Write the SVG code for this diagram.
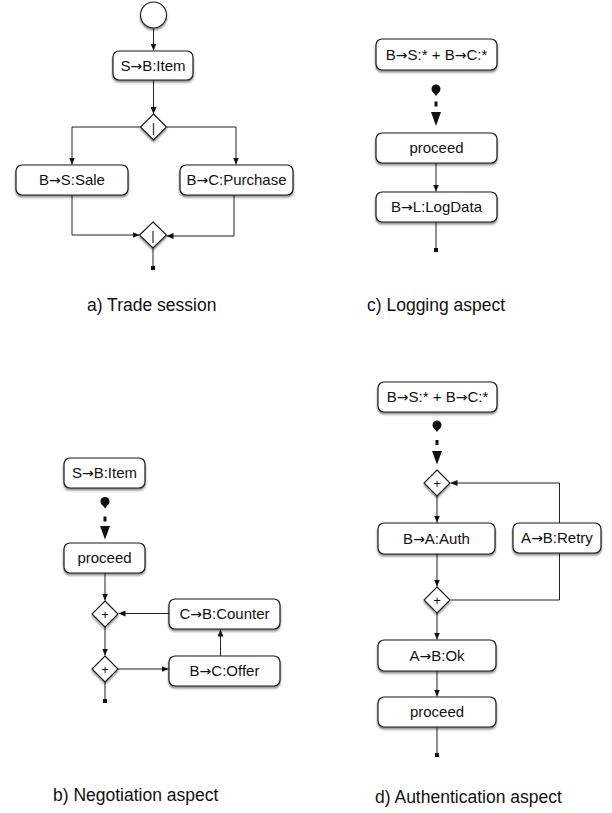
<svg xmlns="http://www.w3.org/2000/svg" width="612" height="813" viewBox="0 0 612 813">
<defs>
<style>
.box{fill:#fff;stroke:#1a1a1a;stroke-width:1.2;filter:url(#sh)}
.dia{fill:#fff;stroke:#1a1a1a;stroke-width:1.1;filter:url(#sh)}
.t{font-family:"Liberation Sans",Arial,sans-serif;font-size:15px;fill:#111;text-anchor:middle}
.ar{font-family:"DejaVu Sans",sans-serif;font-size:14px}
.s{font-family:"Liberation Sans",Arial,sans-serif;font-size:13px;fill:#111;text-anchor:middle}
.lab{font-family:"Liberation Sans",Arial,sans-serif;font-size:17.5px;fill:#111}
.c{fill:none;stroke:#222;stroke-width:1}
.ca{fill:none;stroke:#222;stroke-width:1;marker-end:url(#ah)}
.k{fill:#111}
</style>
<filter id="sh" x="-20%" y="-20%" width="140%" height="160%">
<feDropShadow dx="0" dy="2" stdDeviation="1.3" flood-color="#000" flood-opacity="0.45"/>
</filter>
<marker id="ah" markerWidth="7" markerHeight="6" refX="7" refY="3" orient="auto" markerUnits="userSpaceOnUse">
<path d="M0,0 L7,3 L0,6 z" fill="#111"/>
</marker>
</defs>

<g id="connectors">
<!-- a) trade session -->
<path class="ca" d="M153.5,28 V50.5"/>
<path class="ca" d="M153.5,80 V114"/>
<path class="ca" d="M140.5,127 H72 V164.5"/>
<path class="ca" d="M166.5,127 H236 V164.5"/>
<path class="ca" d="M72,195 V235 H139.5"/>
<path class="ca" d="M234,195 V236 H166.5"/>
<path class="c" d="M153,248 V266"/>
<rect class="k" x="151" y="266" width="4" height="4"/>

<!-- c) logging -->
<circle class="k" cx="436" cy="89" r="4.5"/>
<path class="k" d="M432.5,91 L439.5,91 L436,96 z"/>
<rect class="k" x="434.5" y="101.5" width="3" height="5"/>
<path class="k" d="M431,112 L441,112 L436,126 z"/>
<path class="ca" d="M436,163 V191.5"/>
<path class="c" d="M436,222 V248"/>
<rect class="k" x="434" y="248" width="4" height="4"/>

<!-- b) negotiation -->
<circle class="k" cx="105" cy="501.5" r="4.5"/>
<path class="k" d="M101.5,503.5 L108.5,503.5 L105,508.5 z"/>
<rect class="k" x="103.5" y="516.5" width="3" height="5"/>
<path class="k" d="M100,526 L110,526 L105,539.5 z"/>
<path class="ca" d="M105,573 V600.5"/>
<path class="ca" d="M169,613.5 H118.5"/>
<path class="ca" d="M105,627 V655.5"/>
<path class="ca" d="M118,669 H168.5"/>
<path class="ca" d="M220.5,656 V629.5"/>
<path class="c" d="M105,681.5 V699"/>
<rect class="k" x="103" y="699" width="4" height="4"/>

<!-- d) authentication -->
<circle class="k" cx="437" cy="425" r="4.5"/>
<path class="k" d="M433.5,427 L440.5,427 L437,432 z"/>
<rect class="k" x="435.5" y="440" width="3" height="5"/>
<path class="k" d="M432,451 L442,451 L437,464.5 z"/>
<path class="ca" d="M559.5,523 V483 H450.5"/>
<path class="ca" d="M437,496 V522.5"/>
<path class="ca" d="M437,554 V586.5"/>
<path class="c" d="M450.5,600 H559.5 V553.5"/>
<path class="ca" d="M437,613 V639.5"/>
<path class="ca" d="M437,671 V696.5"/>
<path class="c" d="M437,727.5 V753"/>
<rect class="k" x="435" y="753" width="4" height="4"/>
</g>

<!-- a) Trade session nodes -->
<g id="a_start"><circle cx="153.5" cy="15" r="13" class="dia"/></g>
<g id="a_item"><rect class="box" x="113" y="51" width="80" height="29" rx="6"/><text class="t" x="153" y="70.5">S<tspan class="ar">→</tspan>B:Item</text></g>
<g id="a_split"><path class="dia" d="M153.5,114 L166.5,127 L153.5,140 L140.5,127 z"/><text class="s" x="153.5" y="131.5">|</text></g>
<g id="a_sale"><rect class="box" x="16" y="165" width="112" height="30" rx="6"/><text class="t" x="72" y="185">B<tspan class="ar">→</tspan>S:Sale</text></g>
<g id="a_purchase"><rect class="box" x="180" y="165" width="113" height="30" rx="6"/><text class="t" x="236.5" y="185">B<tspan class="ar">→</tspan>C:Purchase</text></g>
<g id="a_join"><path class="dia" d="M153,222 L166.5,235 L153,248 L139.5,235 z"/><text class="s" x="153" y="239.5">|</text></g>

<!-- c) Logging aspect nodes -->
<g id="c_pointcut"><rect class="box" x="376" y="39" width="121" height="31" rx="6"/><text class="t" x="436.5" y="59.5">B<tspan class="ar">→</tspan>S:* + B<tspan class="ar">→</tspan>C:*</text></g>
<g id="c_proceed"><rect class="box" x="376" y="133" width="121" height="30" rx="6"/><text class="t" x="436.5" y="153">proceed</text></g>
<g id="c_log"><rect class="box" x="376" y="192" width="121" height="30" rx="6"/><text class="t" x="436.5" y="212">B<tspan class="ar">→</tspan>L:LogData</text></g>

<!-- b) Negotiation aspect nodes -->
<g id="b_pointcut"><rect class="box" x="64" y="458" width="81" height="30" rx="6"/><text class="t" x="104.5" y="478">S<tspan class="ar">→</tspan>B:Item</text></g>
<g id="b_proceed"><rect class="box" x="64" y="543" width="81" height="30" rx="6"/><text class="t" x="104.5" y="563">proceed</text></g>
<g id="b_merge"><path class="dia" d="M105,601 L118,614 L105,627 L92,614 z"/><text class="s" x="105" y="618.5">+</text></g>
<g id="b_counter"><rect class="box" x="169" y="599" width="111" height="30" rx="6"/><text class="t" x="224.5" y="619">C<tspan class="ar">→</tspan>B:Counter</text></g>
<g id="b_split"><path class="dia" d="M105,656 L118,669 L105,682 L92,669 z"/><text class="s" x="105" y="673.5">+</text></g>
<g id="b_offer"><rect class="box" x="169" y="656" width="111" height="30" rx="6"/><text class="t" x="224.5" y="676">B<tspan class="ar">→</tspan>C:Offer</text></g>

<!-- d) Authentication aspect nodes -->
<g id="d_pointcut"><rect class="box" x="378" y="382" width="119" height="30" rx="6"/><text class="t" x="437.5" y="402">B<tspan class="ar">→</tspan>S:* + B<tspan class="ar">→</tspan>C:*</text></g>
<g id="d_merge"><path class="dia" d="M437,470 L450,483 L437,496 L424,483 z"/><text class="s" x="437" y="487.5">+</text></g>
<g id="d_auth"><rect class="box" x="378" y="523" width="117" height="31" rx="6"/><text class="t" x="436.5" y="543.5">B<tspan class="ar">→</tspan>A:Auth</text></g>
<g id="d_retry"><rect class="box" x="513" y="523" width="88" height="30" rx="6"/><text class="t" x="557" y="543">A<tspan class="ar">→</tspan>B:Retry</text></g>
<g id="d_split"><path class="dia" d="M437,587 L450,600 L437,613 L424,600 z"/><text class="s" x="437" y="604.5">+</text></g>
<g id="d_ok"><rect class="box" x="378" y="640" width="118" height="31" rx="6"/><text class="t" x="437" y="660.5">A<tspan class="ar">→</tspan>B:Ok</text></g>
<g id="d_proceed"><rect class="box" x="378" y="697" width="118" height="30" rx="6"/><text class="t" x="437" y="717">proceed</text></g>

<!-- captions -->
<g id="captions">
<text class="lab" x="87" y="311">a) Trade session</text>
<text class="lab" x="367" y="311">c) Logging aspect</text>
<text class="lab" x="53" y="801">b) Negotiation aspect</text>
<text class="lab" x="375" y="803">d) Authentication aspect</text>
</g>
</svg>
